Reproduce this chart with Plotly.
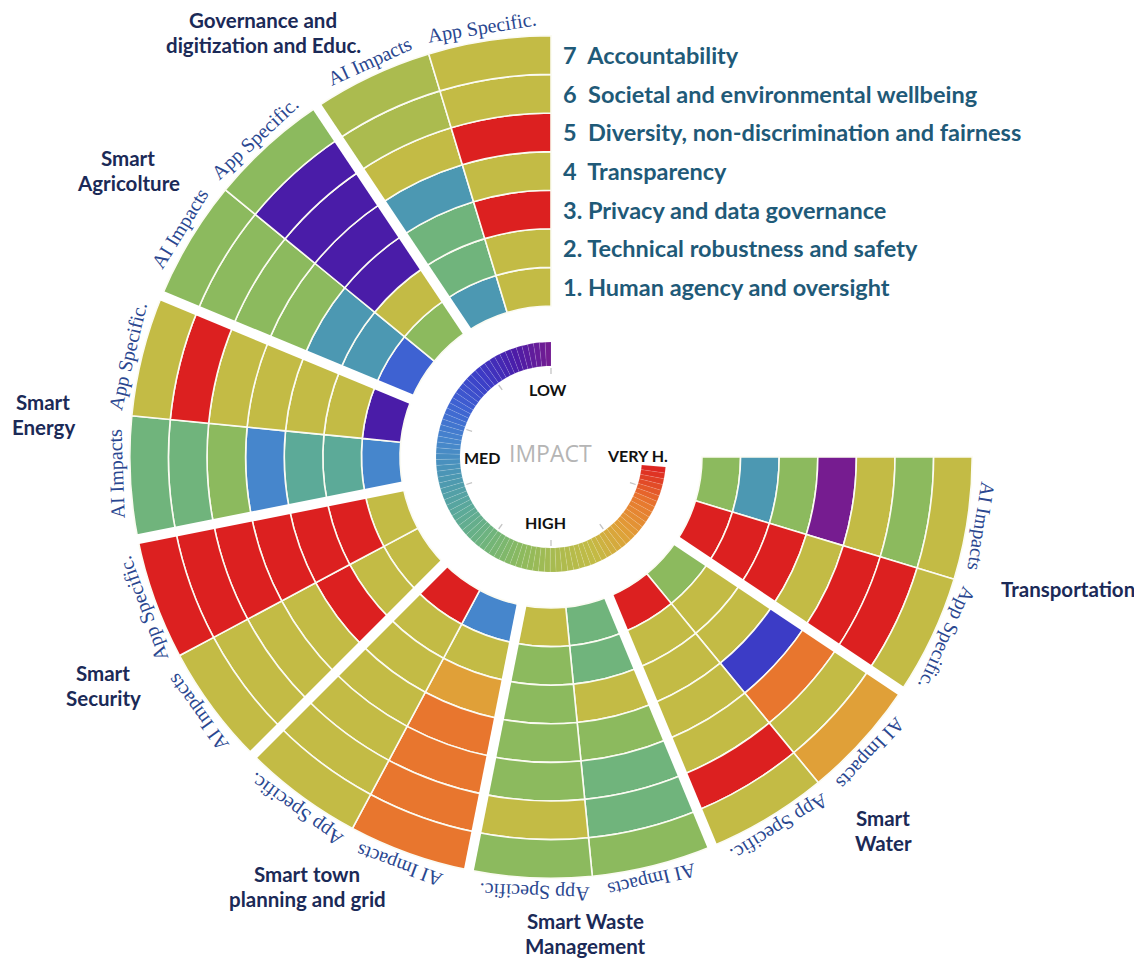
import math
import plotly.graph_objects as go

# ---------------- data ----------------
domains = [
    "Transportation",
    "Smart<br>Water",
    "Smart Waste<br>Management",
    "Smart town<br>planning and grid",
    "Smart<br>Security",
    "Smart<br>Energy",
    "Smart<br>Agricolture",
    "Governance and<br>digitization and Educ.",
]
halves = ["AI Impacts", "App Specific."]
criteria = [
    "1. Human agency and oversight",
    "2. Technical robustness and safety",
    "3. Privacy and data governance",
    "4  Transparency",
    "5  Diversity, non-discrimination and fairness",
    "6  Societal and environmental wellbeing",
    "7  Accountability",
]
# impact level per criterion (ring 1 = inner ... ring 7 = outer)
# 0 = LOW (violet) ... 13 = VERY HIGH (red)
ai_impacts = [
    [8, 5, 8, 0, 10, 8, 10],       # Transportation
    [8, 10, 10, 2, 12, 10, 11],    # Smart Water
    [7, 7, 10, 8, 7, 7, 8],        # Smart Waste Management
    [4, 10, 11, 12, 12, 12, 12],   # Smart town planning
    [10, 10, 13, 10, 10, 10, 10],  # Smart Security
    [4, 6, 6, 4, 8, 7, 7],         # Smart Energy
    [3, 5, 5, 8, 8, 8, 8],         # Smart Agricolture
    [5, 7, 7, 5, 10, 9, 9],        # Governance
]
app_specific = [
    [13, 13, 13, 10, 13, 13, 10],
    [13, 10, 10, 10, 10, 13, 10],
    [10, 8, 8, 8, 8, 10, 8],
    [13, 10, 10, 10, 10, 10, 10],
    [10, 13, 13, 13, 13, 13, 13],
    [1, 10, 10, 10, 10, 13, 10],
    [8, 10, 1, 1, 1, 1, 8],
    [10, 10, 13, 10, 13, 10, 10],
]
level_colors = ["#761c90", "#4a1ca8", "#3c3cc6", "#3e62d2", "#4686cc", "#4c98b2",
                "#5caa98", "#70b47c", "#8cba5e", "#abbb4f", "#c3bb45", "#e0a038",
                "#e8762e", "#dc2020"]
gauge_labels = ["LOW", "MED", "HIGH", "VERY H."]
gauge_ticks = [0, 36, 72, 108, 144, 180, 216, 252]

# ---------------- geometry ----------------
OFF = 8                  # page body margin
W, H = 1142 - OFF, 960 - OFF
CX, CY = 551 - OFF, 457 - OFF
UNIT = 38.6              # px per ring
R_IN_PX = 151
R_IN = R_IN_PX / UNIT
DOM_R = 430
RMAX = DOM_R / UNIT
NSEC = len(domains)
SPAN = 270.0 / NSEC
HALF = SPAN / 2
NLEV = len(level_colors) - 1
GAUGE_SPAN = 265.0
LINE_GAP = 25
colorscale = [[i / NLEV, c] for i, c in enumerate(level_colors)]


def paper(r_px, theta):
    t = math.radians(theta)
    return (CX + r_px * math.cos(t)) / W, 1 - (CY + r_px * math.sin(t)) / H


def pos(px, py):
    return (px - OFF) / W, 1 - (py - OFF) / H


fig = go.Figure()

# cells
th, base, col = [], [], []
for k in range(NSEC):
    for h, series in enumerate([ai_impacts, app_specific]):
        for j, v in enumerate(series[k]):
            th.append(SPAN * k + HALF * h + HALF / 2)
            base.append(R_IN + j)
            col.append(v)
fig.add_trace(go.Barpolar(
    theta=th, r=[1] * len(th), base=base, width=[HALF] * len(th),
    marker=dict(color=col, colorscale=colorscale, cmin=0, cmax=NLEV,
                line=dict(color="#fbfbf2", width=1.6)),
    hoverinfo="skip", showlegend=False))

# gaps between sectors
gr, gt = [], []
for k in range(1, NSEC):
    gr += [R_IN - 0.3, RMAX, None]
    gt += [SPAN * k, SPAN * k, None]
fig.add_trace(go.Scatterpolar(r=gr, theta=gt, mode="lines",
                              line=dict(color="white", width=10),
                              hoverinfo="skip", showlegend=False))

# gauge
NG = 90
g_in, g_out = 91 / UNIT, 115 / UNIT
gth = [270 - GAUGE_SPAN * (i + 0.5) / NG for i in range(NG)]
gval = [NLEV * (i + 0.5) / NG for i in range(NG)]
fig.add_trace(go.Barpolar(
    theta=gth, r=[g_out - g_in] * NG, base=[g_in] * NG, width=[GAUGE_SPAN / NG] * NG,
    marker=dict(color=gval, colorscale=colorscale, cmin=0, cmax=NLEV,
                line=dict(color="rgba(255,255,255,0.2)", width=0.5)),
    hoverinfo="skip", showlegend=False))
tr, tt = [], []
for off in gauge_ticks:
    tr += [83 / UNIT, 89 / UNIT, None]
    tt += [270 - off, 270 - off, None]
fig.add_trace(go.Scatterpolar(r=tr, theta=tt, mode="lines",
                              line=dict(color="#c4c4c4", width=1.3),
                              hoverinfo="skip", showlegend=False))

ann = []
# AI Impacts / App Specific labels
for k in range(NSEC):
    sec_c = SPAN * k + HALF
    for h, name in enumerate(halves):
        t = SPAN * k + HALF * h + HALF / 2
        t = sec_c + (t - sec_c) * 0.92
        x, y = paper(435, t)
        ang = t + 90
        while ang > 180:
            ang -= 360
        ann.append(dict(x=x, y=y, xref="paper", yref="paper", text=name,
                        textangle=ang, showarrow=False, xanchor="center", yanchor="middle",
                        font=dict(family="Liberation Serif", size=20, color="#2a4790")))

# domain labels (reference pixel positions of text block centers)
dom_pos = [(1068, 589), (883, 830), (585, 933), (307, 886), (103, 685),
           (43, 414), (128, 170), (263, 33)]
for name, (px, py) in zip(domains, dom_pos):
    lines = name.split("<br>")
    for i, line in enumerate(lines):
        ly = py + (i - (len(lines) - 1) / 2) * LINE_GAP
        x, y = pos(px, ly)
        ann.append(dict(x=x, y=y, xref="paper", yref="paper", text="<b>%s</b>" % line,
                        showarrow=False, xanchor="center", yanchor="middle",
                        font=dict(family="Lato", size=20.5, color="#1b2a57")))

# criteria legend aligned with rings
for j, name in enumerate(criteria):
    py = CY - (R_IN_PX + (j + 0.5) * UNIT)
    ann.append(dict(x=(561 - OFF) / W, y=1 - py / H, xref="paper", yref="paper",
                    text="<b>%s</b>" % name,
                    showarrow=False, xanchor="left", yanchor="middle",
                    font=dict(family="Lato", size=23.5, color="#1f5a78")))

# gauge labels
g_pos = [(548, 389), (482, 457), (545, 522), (637, 455)]
for name, (px, py) in zip(gauge_labels, g_pos):
    x, y = pos(px, py)
    ann.append(dict(x=x, y=y, xref="paper", yref="paper", text="<b>%s</b>" % name,
                    showarrow=False, xanchor="center", yanchor="middle",
                    font=dict(family="Lato", size=16, color="#111111")))
x, y = pos(550, 453)
ann.append(dict(x=x, y=y, xref="paper", yref="paper", text="IMPACT",
                showarrow=False, xanchor="center", yanchor="middle",
                font=dict(family="Open Sans", size=23, color="#b5b5b5")))

fig.update_layout(
    width=W, height=H, margin=dict(l=0, r=0, t=0, b=0),
    paper_bgcolor="white", plot_bgcolor="white", showlegend=False,
    polar=dict(
        domain=dict(x=[(CX - DOM_R) / W, (CX + DOM_R) / W],
                    y=[1 - (CY + DOM_R) / H, 1 - (CY - DOM_R) / H]),
        bgcolor="white", barmode="overlay",
        radialaxis=dict(visible=False, range=[0, RMAX]),
        angularaxis=dict(visible=False, rotation=0, direction="clockwise"),
    ),
    annotations=ann,
)
fig.write_html("out.html")
